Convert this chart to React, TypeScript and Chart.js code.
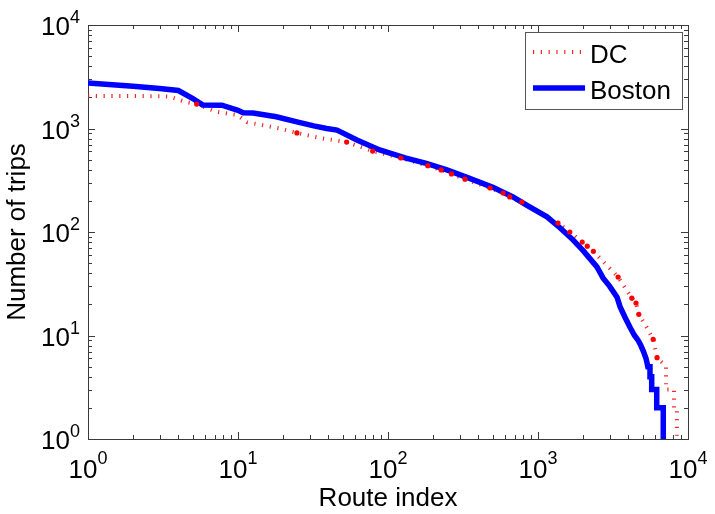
import React, { useEffect, useRef } from "react";
import { Chart, registerables } from "chart.js";

Chart.register(...registerables);

// ---- text ----
const xTitle = "Route index";
const yTitle = "Number of trips";
const seriesNames = ["DC", "Boston"];
const tickBase = "10";
const tickExponents = ["0", "1", "2", "3", "4"];

// ---- Boston series (route index, number of trips) ----
const bostonX = [1, 2, 3, 4, 5, 5.8, 7.8, 10, 10.8, 12.6, 18, 24.7, 32, 39, 45.7, 62, 88, 130, 180, 247, 350, 500, 681, 850, 1148, 1400, 1711, 2000, 2471, 2712, 3000, 3365, 3523, 3800, 4105, 4400, 4642, 4850, 5050, 5250, 5400, 5580, 5580, 5728, 5728, 6186, 6186, 6840, 6840];
const bostonY = [2750, 2560, 2440, 2330, 1950, 1690, 1680, 1500, 1420, 1410, 1300, 1160, 1060, 1000, 965, 775, 620, 520, 460, 398, 330, 270, 218, 180, 140, 110, 84, 66, 46, 36, 30, 23.5, 19, 15, 12, 10, 9, 8, 7, 6, 5, 5, 4, 4, 3, 3, 2, 2, 1];

// ---- DC series ----
const dcX = [1, 2, 3, 3.5, 4.5, 5.3, 7.2, 9.9, 11.5, 19, 24.7, 35, 53, 79, 122, 184, 226, 265, 326, 480, 585, 648, 780, 1000, 1360, 1630, 1970, 2130, 2340, 3420, 4220, 4500, 4700, 5300, 5860, 6220, 6800, 7130, 7130, 8070, 8070, 8430, 8430, 8850];
const dcY = [2060, 2060, 2050, 2030, 1800, 1720, 1450, 1350, 1150, 1000, 906, 810, 740, 605, 519, 437, 398, 364, 324, 266, 238, 218, 195, 155, 122, 100, 80, 73, 65, 36.7, 23, 20.6, 16, 12, 9.2, 6.1, 5.4, 5, 3, 3, 2, 2, 1, 1];

// ---- DC dense-point markers ----
const dcDotX = [5.3, 24.7, 53, 79, 122, 184, 226, 265, 326, 480, 585, 648, 780, 1360, 1630, 1970, 2130, 2340, 3420, 4220, 4500, 4700, 5860, 6220];
const dcDotY = [1720, 906, 740, 605, 519, 437, 398, 364, 324, 266, 238, 218, 195, 122, 100, 80, 73, 65, 36.7, 23, 20.6, 16, 9.2, 6.1];

const FONT = '"Liberation Sans", Arial, Helvetica, sans-serif';
const RED = "rgba(235,20,20,0.9)";
const BLUE = "#0000ff";

const toPts = (xs: number[], ys: number[]) => xs.map((x, i) => ({ x, y: ys[i] }));

const framePlugin = {
  id: "matlabFrame",
  beforeDatasetsDraw(chart: any) {
    const { ctx, chartArea: a, scales } = chart;
    const xs = scales.x;
    const ys = scales.y;
    ctx.save();
    ctx.strokeStyle = "#3a3a3a";
    ctx.lineWidth = 1;
    ctx.beginPath();
    for (let d = 0; d < 4; d++) {
      for (let m = 1; m <= 9; m++) {
        const v = m * Math.pow(10, d);
        const len = m === 1 ? 7 : 4;
        if (m !== 1 || d !== 0) {
          const px = Math.round(xs.getPixelForValue(v)) + 0.5;
          ctx.moveTo(px, a.bottom);
          ctx.lineTo(px, a.bottom - len);
          ctx.moveTo(px, a.top);
          ctx.lineTo(px, a.top + len);
          const py = Math.round(ys.getPixelForValue(v)) + 0.5;
          ctx.moveTo(a.left, py);
          ctx.lineTo(a.left + len, py);
          ctx.moveTo(a.right, py);
          ctx.lineTo(a.right - len, py);
        }
      }
    }
    ctx.stroke();
    ctx.strokeRect(Math.round(a.left) + 0.5, Math.round(a.top) + 0.5, Math.round(a.right - a.left), Math.round(a.bottom - a.top));
    ctx.restore();
  },
  afterDraw(chart: any) {
    const { ctx, chartArea: a, scales } = chart;
    const xs = scales.x;
    const ys = scales.y;
    ctx.save();
    ctx.fillStyle = "#000";
    ctx.textBaseline = "alphabetic";
    ctx.textAlign = "left";
    const big = `26px ${FONT}`;
    const small = `18px ${FONT}`;
    tickExponents.forEach((e, k) => {
      const v = Math.pow(10, k);
      ctx.font = big;
      const w1 = ctx.measureText(tickBase).width;
      ctx.font = small;
      const w2 = ctx.measureText(e).width;
      // x axis label
      const cx = xs.getPixelForValue(v);
      const sx = cx - (w1 + w2) / 2;
      ctx.font = big;
      ctx.fillText(tickBase, sx, 478);
      ctx.font = small;
      ctx.fillText(e, sx + w1, 478 - 14);
      // y axis label
      const py = ys.getPixelForValue(v);
      const rx = a.left - 8 - w1 - w2;
      ctx.font = big;
      ctx.fillText(tickBase, rx, py + 10);
      ctx.font = small;
      ctx.fillText(e, rx + w1, py + 10 - 12);
    });

    // legend
    const lx = 525.5, ly = 32.5, lw = 157, lh = 77;
    ctx.fillStyle = "#fff";
    ctx.fillRect(lx, ly, lw, lh);
    ctx.strokeStyle = "#555";
    ctx.lineWidth = 1;
    ctx.strokeRect(lx, ly, lw, lh);

    ctx.save();
    ctx.strokeStyle = RED;
    ctx.lineWidth = 4;
    ctx.lineCap = "butt";
    ctx.setLineDash([1.2, 6.6]);
    ctx.beginPath();
    ctx.moveTo(533, 52);
    ctx.lineTo(583, 52);
    ctx.stroke();
    ctx.restore();

    ctx.strokeStyle = BLUE;
    ctx.lineWidth = 5.5;
    ctx.beginPath();
    ctx.moveTo(533, 88);
    ctx.lineTo(585, 88);
    ctx.stroke();

    ctx.fillStyle = "#000";
    ctx.font = `26px ${FONT}`;
    ctx.fillText(seriesNames[0], 590, 63);
    ctx.fillText(seriesNames[1], 590, 99);
    ctx.restore();
  },
};

export default function App() {
  const ref = useRef<HTMLCanvasElement | null>(null);
  useEffect(() => {
    if (!ref.current) return;
    const chart = new Chart(ref.current, {
      type: "line",
      data: {
        datasets: [
          {
            label: seriesNames[1],
            data: toPts(bostonX, bostonY),
            borderColor: BLUE,
            backgroundColor: BLUE,
            borderWidth: 5.5,
            pointRadius: 0,
            tension: 0,
            fill: false,
            order: 1,
            borderJoinStyle: "miter",
          },
          {
            label: seriesNames[0],
            data: toPts(dcX, dcY),
            borderColor: RED,
            backgroundColor: RED,
            borderWidth: 4,
            borderDash: [1.2, 6.6],
            borderCapStyle: "butt",
            pointRadius: 0,
            tension: 0,
            fill: false,
            order: 2,
          },
          {
            label: seriesNames[0] + " points",
            data: toPts(dcDotX, dcDotY),
            showLine: false,
            pointRadius: 2.6,
            pointBorderWidth: 0,
            pointBackgroundColor: "#ff0000",
            pointBorderColor: "#ff0000",
            order: 0,
          },
        ],
      },
      options: {
        animation: false,
        responsive: true,
        maintainAspectRatio: false,
        events: [],
        layout: { padding: { top: 25, right: 27, left: 0, bottom: 0 } },
        plugins: {
          legend: { display: false },
          tooltip: { enabled: false },
        },
        scales: {
          x: {
            type: "logarithmic",
            min: 1,
            max: 10000,
            grid: { display: false },
            border: { display: false },
            ticks: { display: false },
            title: {
              display: true,
              text: xTitle,
              color: "#000",
              font: { family: FONT, size: 26 },
              padding: { top: 0, bottom: 0 },
            },
            afterFit: (s: any) => {
              s.height = 75;
            },
          },
          y: {
            type: "logarithmic",
            min: 1,
            max: 10000,
            grid: { display: false },
            border: { display: false },
            ticks: { display: false },
            title: {
              display: true,
              text: yTitle,
              color: "#000",
              font: { family: FONT, size: 26 },
              padding: { top: 2, bottom: 0 },
            },
            afterFit: (s: any) => {
              s.width = 88;
            },
          },
        },
      } as any,
      plugins: [framePlugin],
    });
    return () => chart.destroy();
  }, []);
  return (
    <div style={{ position: "fixed", left: 0, top: 0, width: 715, height: 514 }}>
      <canvas ref={ref} />
    </div>
  );
}
